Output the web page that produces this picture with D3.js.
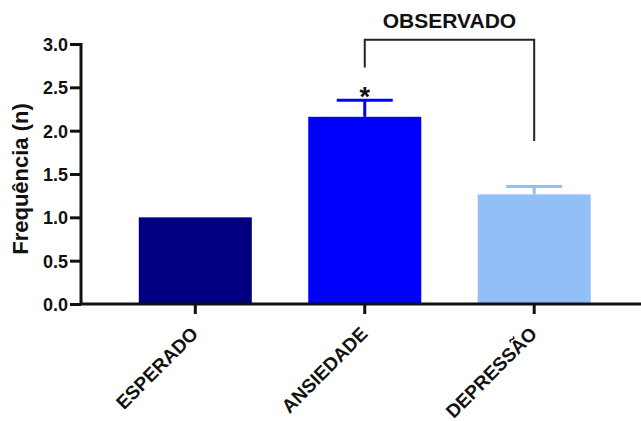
<!DOCTYPE html>
<html>
<head>
<meta charset="utf-8">
<script src="https://cdn.jsdelivr.net/npm/d3@7"></script>
<style>
  body { margin: 0; background: #fff; }
  text { font-family: "Liberation Sans", Arial, sans-serif; font-weight: bold; fill: #111; }
</style>
</head>
<body>
<script>
var width = 641
var height = 421

// data
var categories = ["ESPERADO", "ANSIEDADE", "DEPRESSÃO"]
var means = [1.0, 2.16, 1.265]
var errors = [0, 0.19, 0.09]
var colors = ["#000080", "#0000ff", "#93bff7"]
var yTicks = [0.0, 0.5, 1.0, 1.5, 2.0, 2.5, 3.0]

// bracket over the observed groups: [left end, top, right end]
var bracket = [2.73, 3.05, 1.88]

const svg = d3.select("body").append("svg")
  .attr("width", width)
  .attr("height", height)

const x = d3.scaleBand()
  .domain(categories)
  .range([110.5, 619])
  .paddingInner(0.333)
  .paddingOuter(0.167)

const y = d3.scaleLinear().domain([0, 3]).range([304, 44])

// bars
svg.append("g")
  .selectAll("rect")
  .data(categories)
  .join("rect")
  .attr("x", d => x(d))
  .attr("y", (d, i) => y(means[i]))
  .attr("width", x.bandwidth())
  .attr("height", (d, i) => y(0) - y(means[i]))
  .attr("fill", (d, i) => colors[i])

// error bars (upper only)
const eb = svg.append("g")
  .selectAll("g")
  .data(categories.filter((d, i) => errors[i] > 0))
  .join("g")
  .attr("stroke", d => colors[categories.indexOf(d)])
  .attr("stroke-width", 3)

eb.append("line")
  .attr("x1", d => x(d) + x.bandwidth() / 2)
  .attr("x2", d => x(d) + x.bandwidth() / 2)
  .attr("y1", d => y(means[categories.indexOf(d)]))
  .attr("y2", d => { const i = categories.indexOf(d); return y(means[i] + errors[i]) })

eb.append("line")
  .attr("x1", d => x(d) + x.bandwidth() / 2 - 28)
  .attr("x2", d => x(d) + x.bandwidth() / 2 + 28)
  .attr("y1", d => { const i = categories.indexOf(d); return y(means[i] + errors[i]) })
  .attr("y2", d => { const i = categories.indexOf(d); return y(means[i] + errors[i]) })

// y axis
const yAxis = svg.append("g")
  .attr("transform", "translate(81,0)")
  .call(d3.axisLeft(y).tickValues(yTicks).tickFormat(d3.format(".1f")).tickSize(11).tickPadding(2))
yAxis.select(".domain").attr("stroke", "#111").attr("stroke-width", 3)
  .attr("d", "M0," + (y(3) - 1) + "V" + y(0))
yAxis.selectAll(".tick line").attr("stroke", "#111").attr("stroke-width", 3)
yAxis.selectAll(".tick text").style("font-size", "18px").attr("dy", "0.36em")

// x axis
const xAxis = svg.append("g")
  .attr("transform", "translate(0,304)")
  .call(d3.axisBottom(x).tickSize(10).tickFormat(""))
xAxis.select(".domain").attr("stroke", "#111").attr("stroke-width", 3)
  .attr("d", "M80,0H" + width)
xAxis.selectAll(".tick line").attr("stroke", "#111").attr("stroke-width", 3)

svg.append("g")
  .selectAll("text")
  .data(categories)
  .join("text")
  .attr("transform", d => "translate(" + (x(d) + x.bandwidth() / 2 + 4) + ",335) rotate(-45)")
  .attr("text-anchor", "end")
  .style("font-size", "19px")
  .text(d => d)

// y title
svg.append("text")
  .attr("transform", "translate(28,179) rotate(-90)")
  .attr("text-anchor", "middle")
  .style("font-size", "22px")
  .text("Frequência (n)")

// bracket + label
const bx1 = x("ANSIEDADE") + x.bandwidth() / 2
const bx2 = x("DEPRESSÃO") + x.bandwidth() / 2
svg.append("path")
  .attr("d", d3.line()([[bx1, y(bracket[0])], [bx1, y(bracket[1])], [bx2, y(bracket[1])], [bx2, y(bracket[2])]]))
  .attr("fill", "none")
  .attr("stroke", "#222")
  .attr("stroke-width", 2)

svg.append("text")
  .attr("x", (bx1 + bx2) / 2)
  .attr("y", 28)
  .attr("text-anchor", "middle")
  .style("font-size", "21px")
  .text("OBSERVADO")

// significance mark
svg.append("text")
  .attr("x", bx1)
  .attr("y", y(means[1] + errors[1]) + 6)
  .attr("text-anchor", "middle")
  .style("font-size", "27px")
  .text("*")
</script>
</body>
</html>
